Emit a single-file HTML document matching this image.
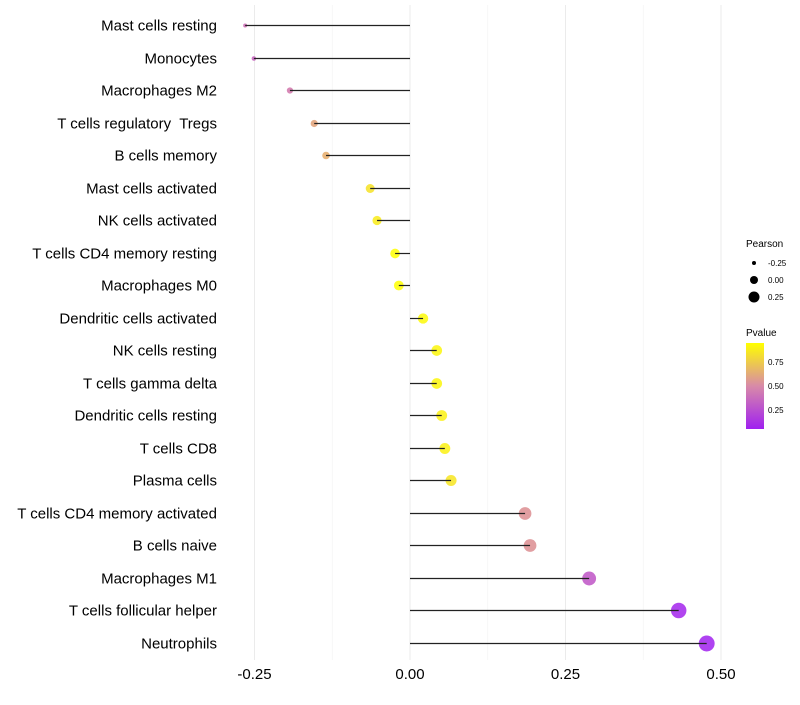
<!DOCTYPE html>
<html><head><meta charset="utf-8"><style>
body{margin:0;background:#fff;font-family:"Liberation Sans",sans-serif}
text{white-space:pre}
</style></head><body>
<svg id="chart" width="800" height="700" xmlns="http://www.w3.org/2000/svg">
<defs><linearGradient id="pg" x1="0" y1="1" x2="0" y2="0">
<stop offset="0" stop-color="#a020f0"/><stop offset="0.5" stop-color="#d88aa8"/><stop offset="1" stop-color="#ffff00"/>
</linearGradient></defs>
<g id="grid"></g><g id="points"></g><g id="marks"></g><g id="labels"></g>
<g font-size="9" fill="#000">
<text x="746" y="247" font-size="10">Pearson</text>
<circle cx="754" cy="263" r="2" fill="#000"/><text x="768" y="266" font-size="8">-0.25</text>
<circle cx="754" cy="280" r="4" fill="#000"/><text x="768" y="283" font-size="8">0.00</text>
<circle cx="754" cy="297" r="5.5" fill="#000"/><text x="768" y="300" font-size="8">0.25</text>
<text x="746" y="336" font-size="10">Pvalue</text>
<rect x="746" y="343" width="18" height="86" fill="url(#pg)"/>
<text x="768" y="365" font-size="8">0.75</text>
<text x="768" y="389" font-size="8">0.50</text>
<text x="768" y="413" font-size="8">0.25</text>
</g>
</svg>
<script>
const categories=["Mast cells resting","Monocytes","Macrophages M2","T cells regulatory  Tregs","B cells memory","Mast cells activated","NK cells activated","T cells CD4 memory resting","Macrophages M0","Dendritic cells activated","NK cells resting","T cells gamma delta","Dendritic cells resting","T cells CD8","Plasma cells","T cells CD4 memory activated","B cells naive","Macrophages M1","T cells follicular helper","Neutrophils"];
const pearson=[-0.265,-0.251,-0.193,-0.154,-0.135,-0.064,-0.053,-0.024,-0.018,0.021,0.043,0.043,0.051,0.056,0.066,0.185,0.193,0.288,0.432,0.477];
const pvalues=[0.40,0.35,0.45,0.62,0.66,0.85,0.88,0.95,0.95,0.93,0.92,0.92,0.90,0.90,0.86,0.55,0.55,0.30,0.08,0.07];
const ticks=[-0.25,0,0.25,0.5];
const tickLabels=["-0.25","0.00","0.25","0.50"];
const NS="http://www.w3.org/2000/svg";
const x=v=>410+v*622;
const y=i=>Math.round(25+i*32.5)+0.5;
const r=v=>Math.sqrt(Math.max(2,4+80*(v+0.265)));
function lerp(a,b,t){return a.map((c,k)=>Math.round(c+(b[k]-c)*t));}
function col(p){const t=Math.max(0,Math.min(1,(p-0.06)/(0.95-0.06)));const A=[160,32,240],M=[216,128,160],B=[255,255,0];const c=t<0.5?lerp(A,M,t*2):lerp(M,B,(t-0.5)*2);return `rgb(${c})`;}
function mk(t,a,p){const e=document.createElementNS(NS,t);for(const k in a)e.setAttribute(k,a[k]);p.appendChild(e);return e;}
const grid=document.getElementById('grid'),marks=document.getElementById('marks'),points=document.getElementById('points'),labels=document.getElementById('labels');
[-0.125,0.125,0.375].forEach(v=>{const l=mk('line',{x1:x(v),x2:x(v),y1:5,y2:660,stroke:'#f3f3f3','stroke-width':0.6},grid);

});
ticks.forEach((v,i)=>{const l=mk('line',{x1:x(v),x2:x(v),y1:5,y2:660,stroke:'#ebebeb','stroke-width':1},grid);


const t=mk('text',{x:x(v),y:679,'text-anchor':'middle','font-size':15,fill:'#000'},labels);t.textContent=tickLabels[i];

});
categories.forEach((c,i)=>{const yy=y(i);
const d=mk('circle',{cx:x(pearson[i]),cy:yy,r:r(pearson[i]),fill:col(pvalues[i]),'fill-opacity':0.85},points);


const l=mk('line',{x1:x(0),x2:x(pearson[i]),y1:yy,y2:yy,stroke:'#222','stroke-width':1.2},marks);


const t=mk('text',{x:217,y:yy+5,'text-anchor':'end','font-size':15,fill:'#000'},labels);t.textContent=c;

});
</script>
</body></html>
